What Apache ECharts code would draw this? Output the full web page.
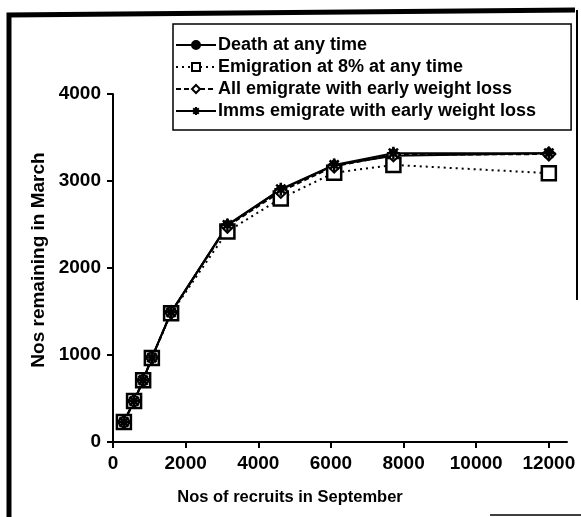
<!DOCTYPE html>
<html>
<head>
<meta charset="utf-8">
<script src="https://cdn.jsdelivr.net/npm/echarts@6/dist/echarts.min.js"></script>
<style>
html, body { margin: 0; padding: 0; background: #fff; }
#chart { width: 581px; height: 517px; }
</style>
</head>
<body>
<div id="chart"></div>
<script>
// recruits in September (x) and numbers left in March (y)
var recruits = [300, 580, 830, 1070, 1600, 3150, 4620, 6090, 7720, 12000];
var death = [230, 470, 710, 970, 1490, 2490, 2900, 3180, 3290, 3320];
var emig8 = [230, 470, 710, 965, 1480, 2420, 2800, 3095, 3185, 3090];
var allEmig = [230, 470, 710, 970, 1490, 2480, 2880, 3170, 3300, 3310];
var immsEmig = [230, 470, 710, 970, 1490, 2495, 2905, 3185, 3320, 3320];
var xTicks = [0, 2000, 4000, 6000, 8000, 10000, 12000];

function pairs(ys) {
    return recruits.map(function (x, i) { return [x, ys[i]]; });
}
function plain(v) { return String(v); }

var font = 'Liberation Sans, Arial, sans-serif';
var star = 'path://M0,5 L10,5 M5,0 L5,10 M1.5,1.5 L8.5,8.5 M8.5,1.5 L1.5,8.5';

var myChart = echarts.init(document.getElementById('chart'));
var option = {
    animation: false,
    backgroundColor: '#fff',
    textStyle: { fontFamily: font, color: '#000' },
    graphic: [
        { type: 'polyline', shape: { points: [[9, 517], [9, 15], [575, 10]] }, style: { stroke: '#000', lineWidth: 5, fill: null } },
        { type: 'line', shape: { x1: 577, y1: 10, x2: 577, y2: 300 }, style: { stroke: '#000', lineWidth: 2 } },
        { type: 'line', shape: { x1: 490, y1: 515, x2: 581, y2: 515 }, style: { stroke: '#000', lineWidth: 1.5 } }
    ],
    legend: {
        orient: 'vertical',
        left: 173,
        top: 24,
        padding: [12, 35, 10, 2],
        itemGap: 4,
        itemWidth: 40,
        itemHeight: 10,
        borderColor: '#000',
        borderWidth: 1.5,
        textStyle: { fontFamily: font, fontSize: 18, fontWeight: 'bold', color: '#000', padding: [0, 0, 0, -3] },
        data: ['Death at any time', 'Emigration at 8% at any time', 'All emigrate with early weight loss', 'Imms emigrate with early weight loss']
    },
    grid: { left: 113, right: 14, top: 94, bottom: 75 },
    xAxis: {
        type: 'value',
        min: 0,
        max: 12500,
        interval: 2000,
        name: 'Nos of recruits in September',
        nameLocation: 'middle',
        nameGap: 47,
        nameTextStyle: { fontFamily: font, fontSize: 16.5, fontWeight: 'bold', color: '#000', padding: [0, 100, 0, 0] },
        axisLine: { lineStyle: { color: '#000', width: 2 } },
        axisTick: { length: 6, lineStyle: { color: '#000', width: 2 }, customValues: xTicks },
        axisLabel: { fontFamily: font, fontSize: 19, fontWeight: 'bold', color: '#000', margin: 12, formatter: plain, customValues: xTicks },
        splitLine: { show: false }
    },
    yAxis: {
        type: 'value',
        min: 0,
        max: 4000,
        interval: 1000,
        name: 'Nos remaining in March',
        nameLocation: 'middle',
        nameGap: 45,
        nameTextStyle: { fontFamily: font, fontSize: 19, fontWeight: 'bold', color: '#000', padding: [0, 0, 0, 16] },
        axisLine: { show: true, lineStyle: { color: '#000', width: 2 } },
        axisTick: { show: true, length: 6, lineStyle: { color: '#000', width: 2 } },
        axisLabel: { fontFamily: font, fontSize: 19, fontWeight: 'bold', color: '#000', margin: 12, formatter: plain },
        splitLine: { show: false }
    },
    series: [
        {
            name: 'Death at any time',
            type: 'line',
            data: pairs(death),
            symbol: 'circle',
            symbolSize: 9,
            lineStyle: { color: '#000', width: 2 },
            itemStyle: { color: '#000', borderColor: '#000', borderWidth: 1 }
        },
        {
            name: 'Emigration at 8% at any time',
            type: 'line',
            data: pairs(emig8),
            symbol: 'rect',
            symbolSize: 14,
            lineStyle: { color: '#000', width: 2, type: [2, 4] },
            itemStyle: { color: '#fff', borderColor: '#000', borderWidth: 2.5 }
        },
        {
            name: 'All emigrate with early weight loss',
            type: 'line',
            data: pairs(allEmig),
            symbol: 'diamond',
            symbolSize: 13,
            lineStyle: { color: '#000', width: 2, type: [5, 3] },
            itemStyle: { color: '#fff', borderColor: '#000', borderWidth: 2 }
        },
        {
            name: 'Imms emigrate with early weight loss',
            type: 'line',
            data: pairs(immsEmig),
            symbol: star,
            symbolSize: 13,
            lineStyle: { color: '#000', width: 2 },
            itemStyle: { color: '#000', borderColor: '#000', borderWidth: 2.5 }
        }
    ]
};
myChart.setOption(option);
</script>
</body>
</html>
